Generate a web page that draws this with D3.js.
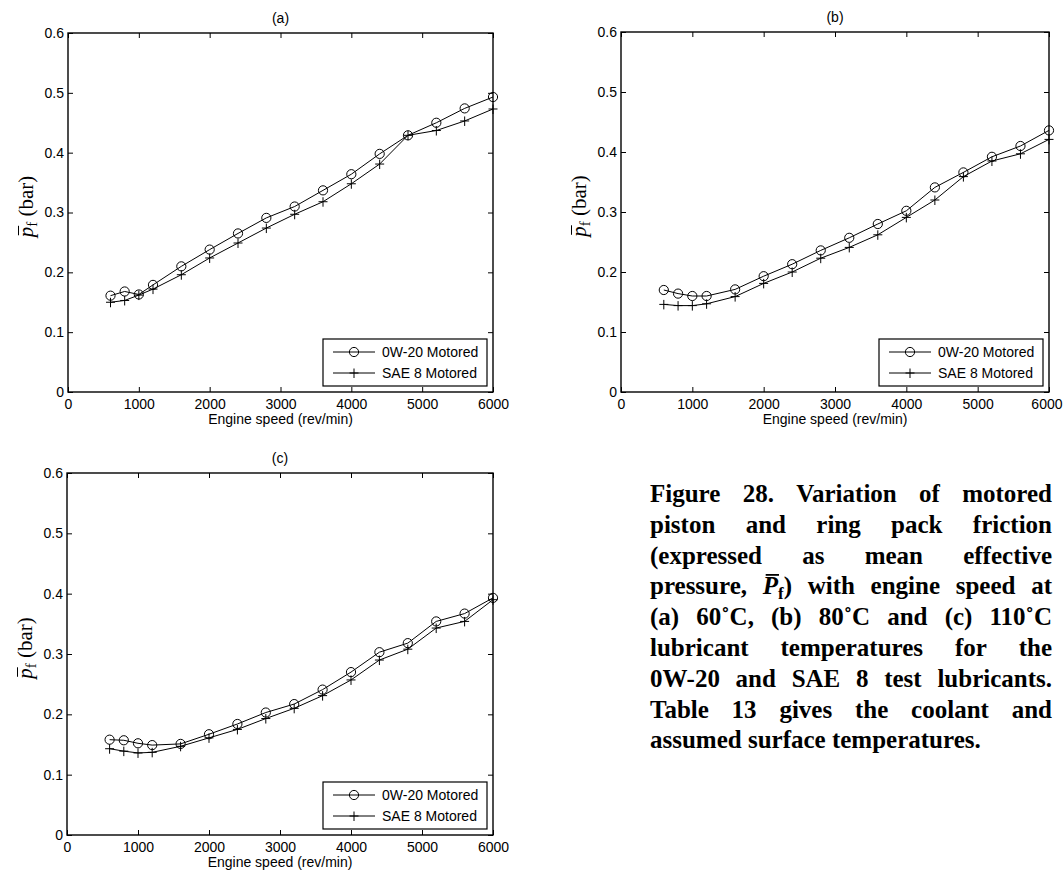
<!DOCTYPE html>
<html>
<head>
<meta charset="utf-8">
<script src="https://cdn.jsdelivr.net/npm/d3@7"></script>
<style>
  body { margin: 0; background: #fff; }
  svg { display: block; }
</style>
</head>
<body>
<svg id="fig" width="1063" height="875"></svg>
<script>
// engine speeds (rev/min) shared by every panel
const speeds = [600, 800, 1000, 1200, 1600, 2000, 2400, 2800, 3200, 3600, 4000, 4400, 4800, 5200, 5600, 6000];

// mean effective friction pressure (bar)
const ow20At60 = [0.161, 0.168, 0.163, 0.179, 0.210, 0.238, 0.265, 0.291, 0.310, 0.337, 0.364, 0.398, 0.429, 0.450, 0.474, 0.493];
const sae8At60 = [0.150, 0.153, 0.162, 0.172, 0.196, 0.224, 0.249, 0.274, 0.297, 0.318, 0.348, 0.381, 0.429, 0.437, 0.453, 0.473];
const ow20At80 = [0.170, 0.164, 0.160, 0.160, 0.171, 0.193, 0.213, 0.236, 0.257, 0.280, 0.302, 0.341, 0.366, 0.392, 0.410, 0.436];
const sae8At80 = [0.146, 0.144, 0.144, 0.147, 0.159, 0.181, 0.200, 0.223, 0.241, 0.262, 0.291, 0.320, 0.359, 0.385, 0.397, 0.421];
const ow20At110 = [0.158, 0.157, 0.152, 0.149, 0.151, 0.167, 0.184, 0.203, 0.217, 0.241, 0.270, 0.303, 0.318, 0.354, 0.367, 0.393];
const sae8At110 = [0.143, 0.139, 0.136, 0.137, 0.147, 0.161, 0.175, 0.193, 0.210, 0.231, 0.257, 0.290, 0.308, 0.343, 0.354, 0.390];

const seriesNames = ["0W-20 Motored", "SAE 8 Motored"];
const panelTitles = ["(a)", "(b)", "(c)"];
const xTicks = [0, 1000, 2000, 3000, 4000, 5000, 6000];
const yTicks = [0, 0.1, 0.2, 0.3, 0.4, 0.5, 0.6];
const xLabel = "Engine speed (rev/min)";

const captionLines = [
  ["Figure", "28.", "Variation", "of", "motored"],
  ["piston", "and", "ring", "pack", "friction"],
  ["(expressed", "as", "mean", "effective"],
  ["pressure,", [{ t: "P", italic: true, bar: true }, { t: "f", sub: true }, { t: ")", up: true }], "with", "engine", "speed", "at"],
  ["(a)", "60˚C,", "(b)", "80˚C", "and", "(c)", "110˚C"],
  ["lubricant", "temperatures", "for", "the"],
  ["0W-20", "and", "SAE", "8", "test", "lubricants."],
  ["Table", "13", "gives", "the", "coolant", "and"],
  ["assumed", "surface", "temperatures."]
];

const svg = d3.select("#fig");
const pageWidth = 1063;
const sansFont = "'Liberation Sans', Arial, sans-serif";
const serifFont = "'Liberation Serif', 'Times New Roman', serif";

const panels = [
  { title: panelTitles[0], left: 68, top: 33, right: 493, bottom: 392, series: [ow20At60, sae8At60] },
  { title: panelTitles[1], left: 621, top: 32, right: 1049, bottom: 392, series: [ow20At80, sae8At80] },
  { title: panelTitles[2], left: 67, top: 473, right: 493, bottom: 835, series: [ow20At110, sae8At110] }
];

const circleMark = (g, cx, cy) => g.append("circle")
  .attr("cx", cx).attr("cy", cy).attr("r", 4.6)
  .attr("fill", "none").attr("stroke", "#000").attr("stroke-width", 1);

const plusMark = (g, cx, cy) => g.append("path")
  .attr("d", `M${cx - 4.5},${cy}H${cx + 4.5}M${cx},${cy - 4.5}V${cy + 5}`)
  .attr("fill", "none").attr("stroke", "#000").attr("stroke-width", 1);

const markers = [circleMark, plusMark];

const styleAxis = g => {
  g.select(".domain").remove();
  g.selectAll("line").attr("stroke", "#000").attr("stroke-width", 1);
  g.attr("font-family", sansFont).attr("font-size", 14);
  g.selectAll("text").attr("fill", "#000");
};

const drawPanel = p => {
  const x = d3.scaleLinear().domain([0, 6000]).range([p.left, p.right]);
  const y = d3.scaleLinear().domain([0, 0.6]).range([p.bottom, p.top]);
  const g = svg.append("g");

  // inward ticks on all four sides, labels on bottom and left only
  const xAxisG = g.append("g").attr("transform", `translate(0,${p.bottom})`)
    .call(d3.axisBottom(x).tickValues(xTicks).tickSizeInner(-5).tickSizeOuter(0).tickPadding(7).tickFormat(d3.format("d")))
    .call(styleAxis);
  // keep the last label inside the page (the original is clipped there)
  xAxisG.selectAll(".tick text").each(function(d) {
    const over = x(d) + this.getComputedTextLength() / 2 - (pageWidth - 1);
    if (over > 0) d3.select(this).attr("x", -over);
  });
  g.append("g").attr("transform", `translate(${p.left},0)`)
    .call(d3.axisLeft(y).tickValues(yTicks).tickSizeInner(-5).tickSizeOuter(0).tickPadding(4)
      .tickFormat(d => d === 0 ? "0" : d3.format(".1f")(d)))
    .call(styleAxis);
  g.append("g").attr("transform", `translate(0,${p.top})`)
    .call(d3.axisTop(x).tickValues(xTicks).tickSizeInner(-5).tickSizeOuter(0).tickFormat(""))
    .call(styleAxis);
  g.append("g").attr("transform", `translate(${p.right},0)`)
    .call(d3.axisRight(y).tickValues(yTicks).tickSizeInner(-5).tickSizeOuter(0).tickFormat(""))
    .call(styleAxis);

  g.append("rect")
    .attr("x", p.left).attr("y", p.top)
    .attr("width", p.right - p.left).attr("height", p.bottom - p.top)
    .attr("fill", "none").attr("stroke", "#000").attr("stroke-width", 1.4);

  // series
  const line = d3.line().x((d, i) => x(speeds[i])).y(d => y(d));
  p.series.forEach((vals, k) => {
    g.append("path").datum(vals)
      .attr("d", line)
      .attr("fill", "none").attr("stroke", "#000").attr("stroke-width", 1);
    vals.forEach((v, i) => markers[k](g, x(speeds[i]), y(v)));
  });

  // title and x label
  g.append("text")
    .attr("x", (p.left + p.right) / 2).attr("y", p.top - 10)
    .attr("text-anchor", "middle")
    .attr("font-family", sansFont).attr("font-size", 14)
    .text(p.title);
  g.append("text")
    .attr("x", (p.left + p.right) / 2).attr("y", p.bottom + 32)
    .attr("text-anchor", "middle")
    .attr("font-family", sansFont).attr("font-size", 14)
    .text(xLabel);

  // y label: p-bar subscript f (bar)
  const yl = g.append("g")
    .attr("transform", `translate(${p.left - 35},${(p.top + p.bottom) / 2 - 6}) rotate(-90)`);
  const ylt = yl.append("text")
    .attr("text-anchor", "middle")
    .attr("font-family", serifFont).attr("font-size", 21);
  ylt.append("tspan").attr("font-style", "italic").text("p");
  ylt.append("tspan").attr("font-size", 15).attr("dy", 4).text("f");
  ylt.append("tspan").attr("dy", -4).text(" (bar)");
  const pBox = ylt.node().getExtentOfChar(0);
  yl.append("line")
    .attr("x1", pBox.x + 2).attr("x2", pBox.x + pBox.width + 1)
    .attr("y1", -14.5).attr("y2", -14.5)
    .attr("stroke", "#000").attr("stroke-width", 1);

  // legend
  const lw = 164, lh = 47;
  const lx = p.right - 6 - lw, ly = p.bottom - 6 - lh;
  const lg = g.append("g");
  lg.append("rect")
    .attr("x", lx).attr("y", ly).attr("width", lw).attr("height", lh)
    .attr("fill", "#fff").attr("stroke", "#000").attr("stroke-width", 1.2);
  seriesNames.forEach((name, k) => {
    const ry = ly + 13 + k * 21;
    lg.append("line")
      .attr("x1", lx + 10).attr("x2", lx + 52).attr("y1", ry).attr("y2", ry)
      .attr("stroke", "#000").attr("stroke-width", 1);
    markers[k](lg, lx + 31, ry);
    lg.append("text")
      .attr("x", lx + 59).attr("y", ry + 5)
      .attr("font-family", sansFont).attr("font-size", 14)
      .text(name);
  });
};

panels.forEach(drawPanel);

// caption, justified line by line
const capLeft = 650, capRight = 1052, capTop = 502, capGap = 30.8;
const cap = svg.append("g")
  .attr("font-family", serifFont).attr("font-size", 25).attr("font-weight", "bold");

captionLines.forEach((words, i) => {
  const yb = capTop + i * capGap;
  const last = i === captionLines.length - 1;
  const nodes = words.map(w => {
    const t = cap.append("text").attr("y", yb);
    if (typeof w === "string") {
      t.text(w);
    } else {
      w.forEach(seg => {
        const s = t.append("tspan").text(seg.t);
        if (seg.italic) s.attr("font-style", "italic");
        if (seg.sub) s.attr("font-size", 17).attr("dy", 5);
        if (seg.up) s.attr("dy", -5);
      });
    }
    return { t, w };
  });
  const widths = nodes.map(n => n.t.node().getComputedTextLength());
  const gap = last ? 6.25 : (capRight - capLeft - d3.sum(widths)) / (nodes.length - 1);
  let xx = capLeft;
  nodes.forEach((n, j) => {
    n.t.attr("x", xx);
    if (typeof n.w !== "string") {
      const b = n.t.node().getExtentOfChar(0);
      cap.append("line")
        .attr("x1", b.x + 3).attr("x2", b.x + b.width + 1)
        .attr("y1", yb - 19.5).attr("y2", yb - 19.5)
        .attr("stroke", "#000").attr("stroke-width", 1.8);
    }
    xx += widths[j] + gap;
  });
});
</script>
</body>
</html>
